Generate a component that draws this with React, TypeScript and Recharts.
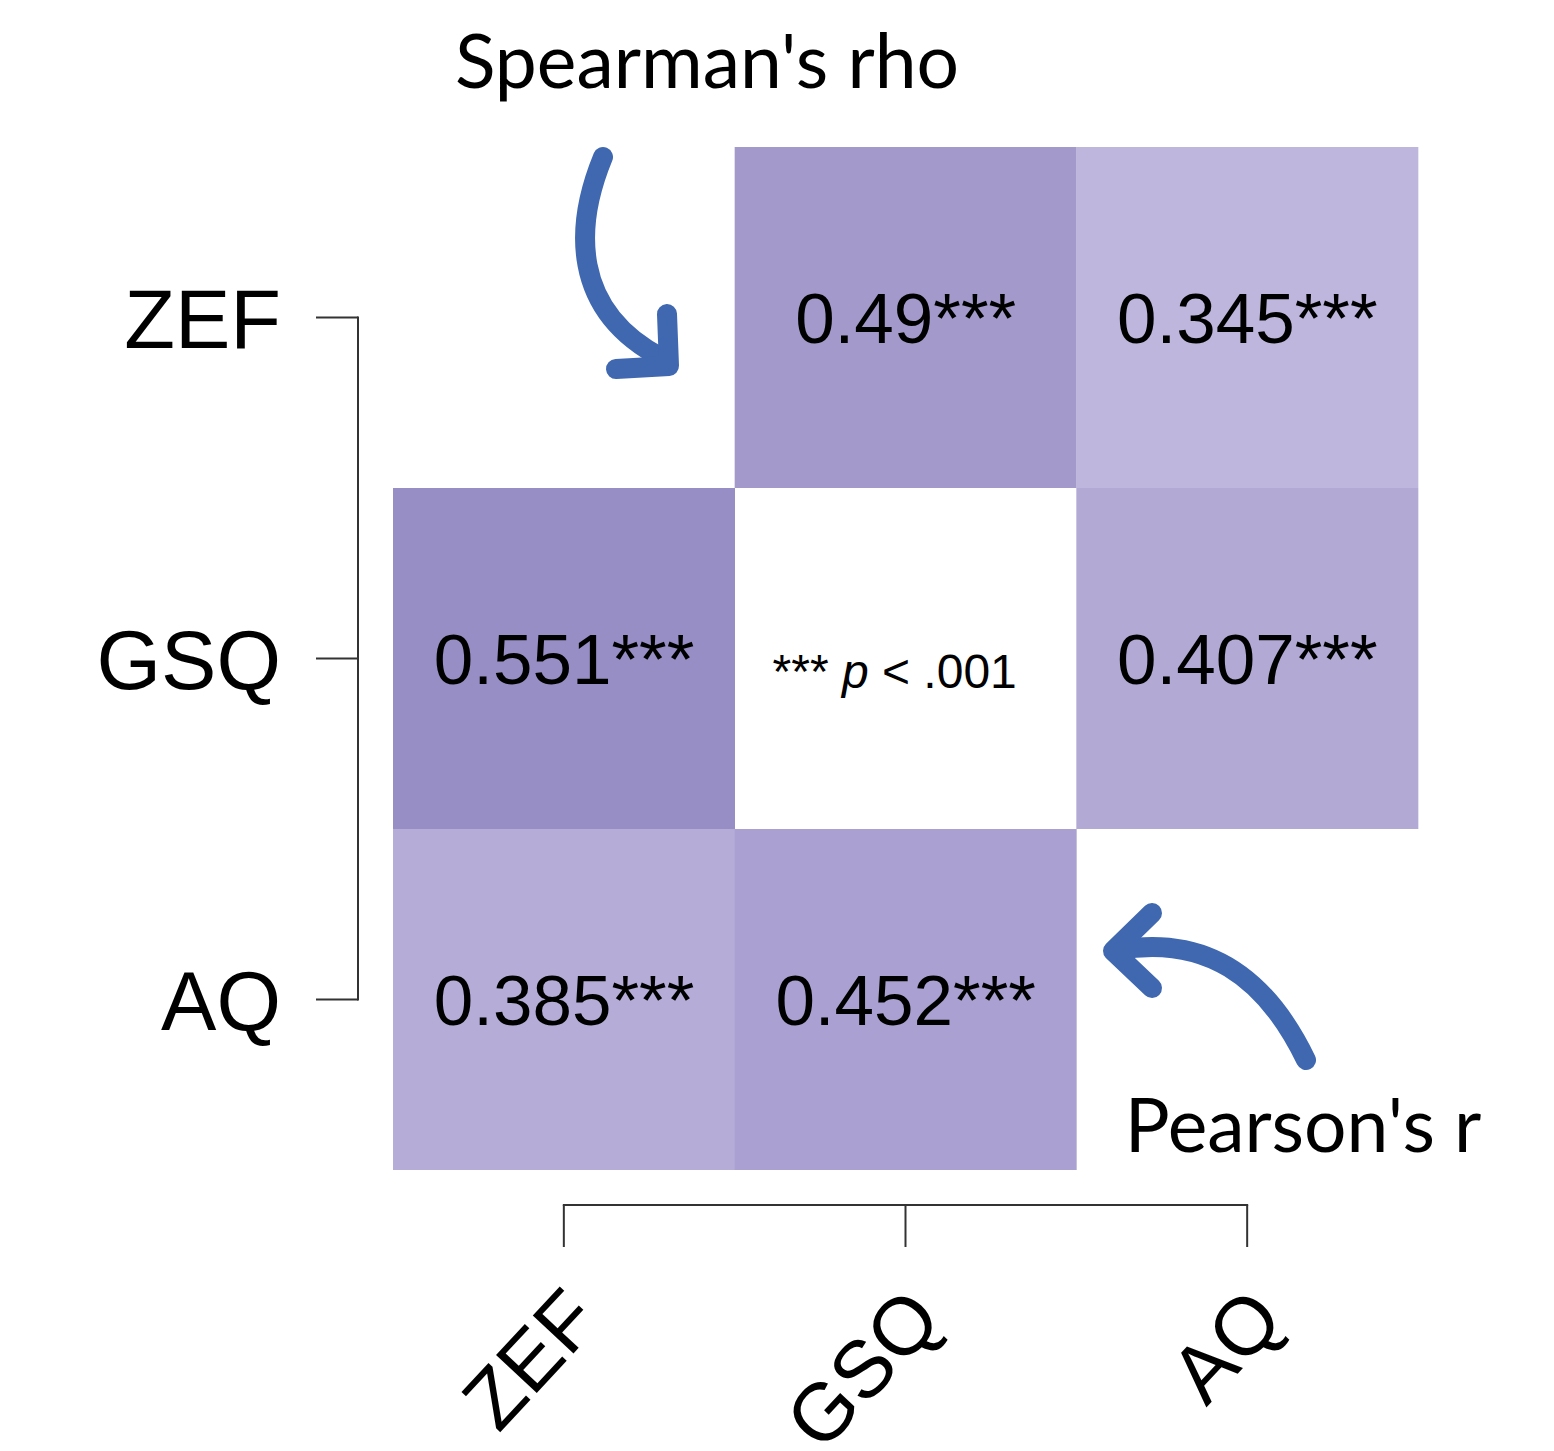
import { BarChart, Bar, XAxis, YAxis, Cell, LabelList } from 'recharts';

// variables, top row to bottom row / left column to right column
const variables = ['ZEF', 'GSQ', 'AQ'];

// upper triangle: Spearman's rho, lower triangle: Pearson's r
const cellValues: (number | null)[][] = [
	[null, 0.49, 0.345],
	[0.551, null, 0.407],
	[0.385, 0.452, null],
];

const cellColors = [
	['transparent', '#a39acb', '#beb6dc'],
	['#978ec5', 'transparent', '#b2a9d5'],
	['#b5add8', '#aaa0d1', 'transparent'],
];

const significance = '***';
const yTicks = [0.5, 1.5, 2.5];

// each column is one stacked bar, each row spans one unit
const columnData = variables.map(col => ({
	col,
	ZEF: 1,
	GSQ: 1,
	AQ: 1,
}));

const sans = "'Liberation Sans', Arial, sans-serif";
const lato = "Lato, 'Noto Sans', sans-serif";
const arrowBlue = '#3f68b0';
const axisColor = '#333';

const YTick = (props: any) => {
	const { x, y, payload, index, visibleTicksCount, height } = props;
	const count = visibleTicksCount ?? 3;
	const step = (height ?? 1023) / count;
	const name = variables[variables.length - 1 - Math.floor(payload.value)];
	return (
		<g>
			<line x1={x - 35} y1={y} x2={x - 77} y2={y} stroke={axisColor} strokeWidth={2} />
			{index < count - 1 && (
				<line x1={x - 35} y1={y + 1} x2={x - 35} y2={y - step - 1} stroke={axisColor} strokeWidth={2} />
			)}
			<text x={x - 112} y={y + 30} textAnchor='end' fontSize={83} fontFamily={sans} fill='#000'>
				{name}
			</text>
		</g>
	);
};

const XTick = (props: any) => {
	const { x, y, payload, index, visibleTicksCount, width } = props;
	const count = visibleTicksCount ?? 3;
	const step = (width ?? 1025) / count;
	return (
		<g>
			<line x1={x} y1={y + 35} x2={x} y2={y + 77} stroke={axisColor} strokeWidth={2} />
			{index < count - 1 && (
				<line x1={x - 1} y1={y + 35} x2={x + step + 1} y2={y + 35} stroke={axisColor} strokeWidth={2} />
			)}
			<text
				transform={`translate(${x + 39},${y + 152}) rotate(-47)`}
				textAnchor='end'
				fontSize={81}
				fontFamily={sans}
				fill='#000'
			>
				{payload.value}
			</text>
		</g>
	);
};

const cellLabel = (rowIdx: number) => (props: any) => {
	const box = props.viewBox ?? props;
	const { x, y, width, height } = box;
	const colIdx = props.index;
	const cx = x + width / 2;
	const cy = y + height / 2;
	const v = cellValues[rowIdx][colIdx];
	if (v === null) {
		if (rowIdx !== 1) return null;
		return (
			<text x={cx - 11} y={cy + 29} textAnchor='middle' fontSize={48} fontFamily={sans} fill='#000'>
				{significance} <tspan fontStyle='italic'>p</tspan> {'< .001'}
			</text>
		);
	}
	return (
		<text x={cx} y={cy + 25} textAnchor='middle' fontSize={71} fontFamily={sans} fill='#000'>
			{`${v}${significance}`}
		</text>
	);
};

// stacking goes bottom-up, so the last row is stacked first
const stackOrder = [2, 1, 0];

const App = () => {
	return (
		<div style={{ position: 'relative', width: 1546, height: 1443 }}>
			<BarChart
				width={1546}
				height={1443}
				data={columnData}
				margin={{ top: 139, right: 136, bottom: 0, left: 0 }}
				barCategoryGap={0}
				barGap={0}
			>
				<XAxis
					dataKey='col'
					type='category'
					height={281}
					axisLine={false}
					tickLine={false}
					tickSize={0}
					tickMargin={0}
					interval={0}
					tick={<XTick />}
				/>
				<YAxis
					type='number'
					domain={[0, 3]}
					ticks={yTicks}
					width={385}
					axisLine={false}
					tickLine={false}
					tickSize={0}
					tickMargin={0}
					interval={0}
					tick={<YTick />}
				/>
				{stackOrder.map(rowIdx => (
					<Bar
						key={variables[rowIdx]}
						dataKey={variables[rowIdx]}
						stackId='m'
						isAnimationActive={false}
					>
						{columnData.map((d, colIdx) => (
							<Cell key={d.col} fill={cellColors[rowIdx][colIdx]} />
						))}
						<LabelList dataKey={variables[rowIdx]} content={cellLabel(rowIdx)} />
					</Bar>
				))}
			</BarChart>
			<svg
				width={1546}
				height={1443}
				style={{ position: 'absolute', left: 0, top: 0, pointerEvents: 'none' }}
			>
				<g transform='translate(-8,-8)'>
					<text x={707} y={88} textAnchor='middle' fontSize={75} fontFamily={lato} fill='#000'>
						Spearman's rho
					</text>
					<text x={1303} y={1152} textAnchor='middle' fontSize={75} fontFamily={lato} fill='#000'>
						Pearson's r
					</text>
					<g fill='none' stroke={arrowBlue} strokeWidth={20} strokeLinecap='round' strokeLinejoin='round'>
						<path d='M 603 157 C 575 225, 570 310, 662 358' />
						<path d='M 667 314 L 669 366 L 616 369' />
						<path d='M 1306 1060 C 1265 975, 1205 935, 1118 950' />
						<path d='M 1152 913 L 1113 951 L 1152 988' />
					</g>
				</g>
			</svg>
		</div>
	);
};

export default App;
